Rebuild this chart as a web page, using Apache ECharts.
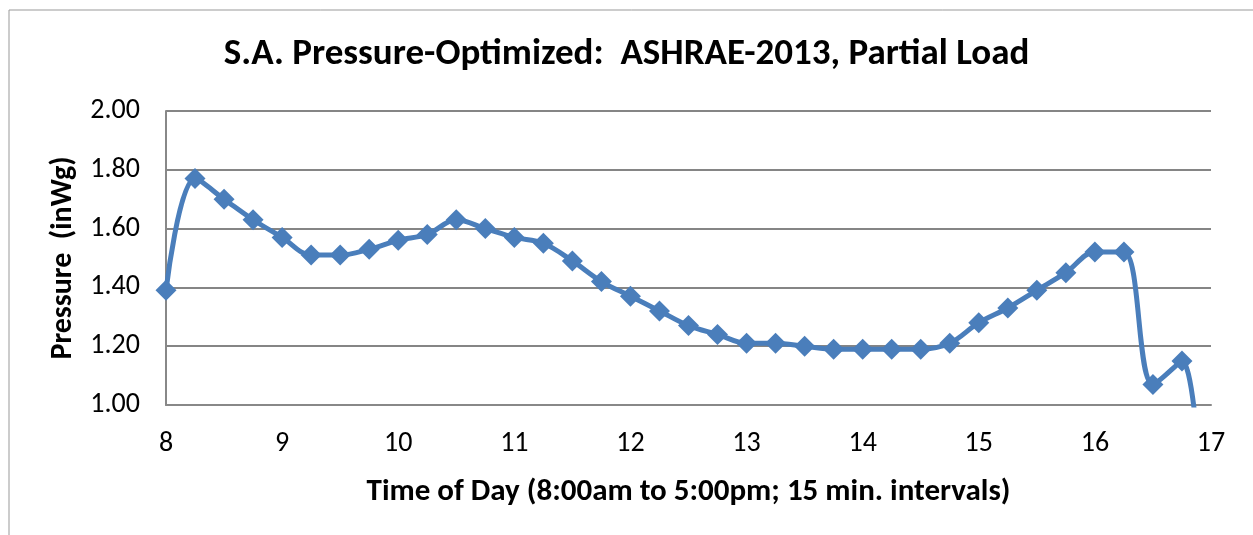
<!DOCTYPE html>
<html>
<head>
<meta charset="utf-8">
<script src="https://cdn.jsdelivr.net/npm/echarts@6/dist/echarts.min.js"></script>
<style>
  html, body { margin: 0; padding: 0; background: #fff; }
  #chart { width: 1253px; height: 535px; }
</style>
</head>
<body>
<div id="chart"></div>
<script>
// time of day in hours, 15 min steps
const hours = [8, 8.25, 8.5, 8.75, 9, 9.25, 9.5, 9.75, 10, 10.25, 10.5, 10.75, 11, 11.25, 11.5, 11.75,
  12, 12.25, 12.5, 12.75, 13, 13.25, 13.5, 13.75, 14, 14.25, 14.5, 14.75, 15, 15.25, 15.5, 15.75,
  16, 16.25, 16.5, 16.75, 17]
// supply air pressure (inWg)
const pressure = [1.39, 1.77, 1.70, 1.63, 1.57, 1.51, 1.51, 1.53, 1.56, 1.58, 1.63, 1.60, 1.57, 1.55, 1.49, 1.42,
  1.37, 1.32, 1.27, 1.24, 1.21, 1.21, 1.20, 1.19, 1.19, 1.19, 1.19, 1.21, 1.28, 1.33, 1.39, 1.45,
  1.52, 1.52, 1.07, 1.15, 0.1]
const xTicks = [8, 9, 10, 11, 12, 13, 14, 15, 16, 17]

const font = 'Carlito, Calibri, Lato, "Open Sans", sans-serif'
const blue = '#4a7ebb'

const myChart = echarts.init(document.getElementById('chart'))

const option = {
  backgroundColor: '#fff',
  animation: false,
  title: {
    text: 'S.A. Pressure-Optimized:  ASHRAE-2013, Partial Load',
    left: 'center',
    top: 31,
    textStyle: { fontFamily: font, fontSize: 37, fontWeight: 'bold', color: '#000' },
  },
  graphic: [
    {
      type: 'rect',
      shape: { x: 9, y: 10, width: 1300, height: 600 },
      style: { fill: 'none', stroke: '#999', lineWidth: 1 },
      silent: true,
    },
  ],
  grid: { left: 166, right: 42, top: 111, bottom: 130 },
  xAxis: {
    type: 'value',
    min: 8,
    max: 17,
    interval: 1,
    name: 'Time of Day (8:00am to 5:00pm; 15 min. intervals)',
    nameLocation: 'middle',
    nameGap: 72,
    nameTextStyle: { fontFamily: font, fontSize: 31, fontWeight: 'bold', color: '#000' },
    axisLine: { show: true, lineStyle: { color: '#888', width: 2 } },
    axisTick: { show: false },
    splitLine: { show: false },
    axisLabel: {
      margin: 25,
      fontFamily: font, fontSize: 28, color: '#000',
      formatter: (v) => (xTicks.includes(v) ? String(v) : ''),
    },
  },
  yAxis: {
    type: 'value',
    min: 1,
    max: 2,
    interval: 0.2,
    name: 'Pressure  (inWg)',
    nameLocation: 'middle',
    nameGap: 88,
    nameTextStyle: { fontFamily: font, fontSize: 30, fontWeight: 'bold', color: '#000' },
    axisLine: { show: true, lineStyle: { color: '#888', width: 2 } },
    axisTick: { show: false },
    splitLine: { show: true, lineStyle: { color: '#858585', width: 2 } },
    axisLabel: {
      margin: 26,
      fontFamily: font, fontSize: 28, color: '#000',
      formatter: (v) => v.toFixed(2),
    },
  },
  series: [
    {
      name: 'Pressure',
      type: 'line',
      data: hours.map((h, i) => [h, pressure[i]]),
      smooth: 0.35,
      clip: true,
      symbol: 'diamond',
      symbolSize: 21,
      showAllSymbol: true,
      lineStyle: { color: blue, width: 5 },
      itemStyle: { color: blue },
    },
  ],
}
option && myChart.setOption(option)
</script>
</body>
</html>
